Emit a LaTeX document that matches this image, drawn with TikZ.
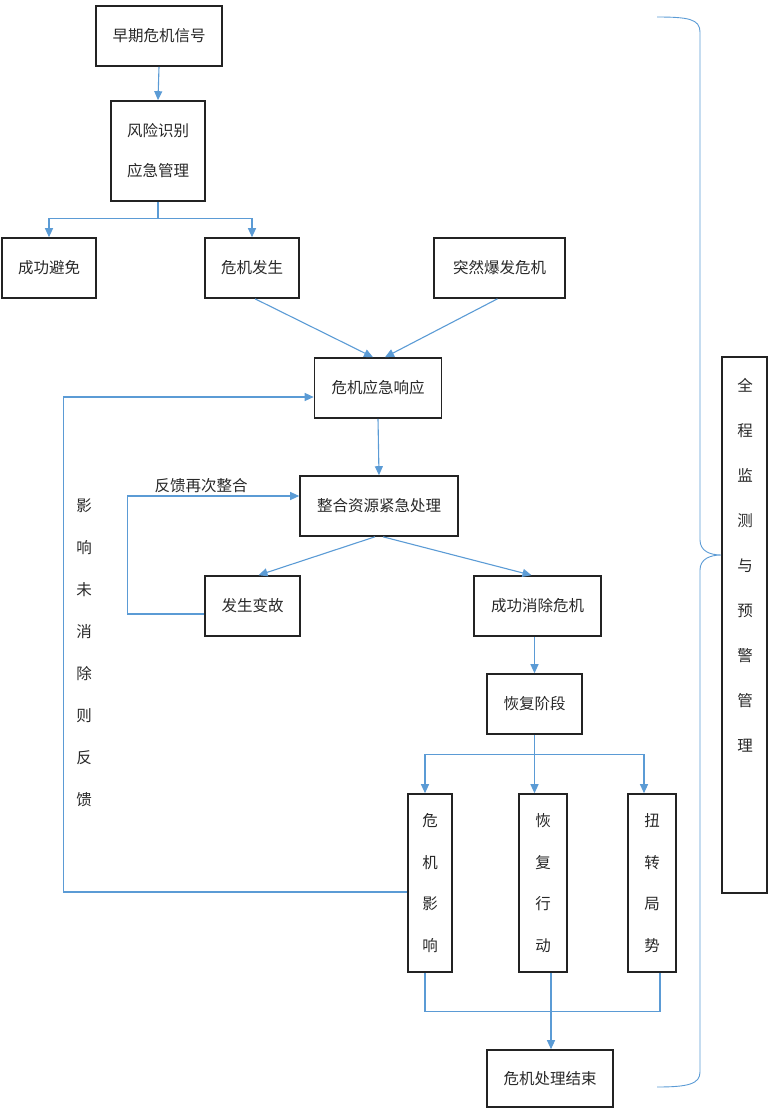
\documentclass[tikz,border=0pt]{standalone}
\usepackage{fontspec}
\setmainfont{Noto Sans CJK SC}
\usetikzlibrary{arrows.meta}
\definecolor{lineblue}{RGB}{91,155,213}
\definecolor{boxgray}{RGB}{35,35,35}
\definecolor{txt}{RGB}{40,40,40}
\begin{document}
\begin{tikzpicture}[x=1pt,y=-1pt,
  box/.style={draw=boxgray, line width=1.6pt, rectangle, inner sep=0pt, text=txt,
    font=\fontsize{15.5}{18}\selectfont, align=center},
  vbox/.style={box, font=\fontsize{15.5}{41.7}\selectfont},
  lbl/.style={text=txt, inner sep=0pt, align=center},
  conn/.style={draw=lineblue, line width=1.1pt},
  arr/.style={conn, -{Triangle[length=9pt,width=8pt]}},
  ]
\useasboundingbox (0,0) rectangle (768,1110);

% boxes
\node[box, minimum width=126pt, minimum height=60pt] (sig) at (159,36) {早期危机信号};
\node[box, minimum width=94pt, minimum height=100pt, font=\fontsize{15.5}{40}\selectfont] (risk) at (158,151) {风险识别\\应急管理};
\node[box, minimum width=94pt, minimum height=60pt] (avoid) at (49,268) {成功避免};
\node[box, minimum width=94pt, minimum height=60pt] (occur) at (252,268) {危机发生};
\node[box, minimum width=131pt, minimum height=60pt] (sudden) at (499.5,268) {突然爆发危机};
\node[box, minimum width=127pt, minimum height=60pt] (resp) at (378,388) {危机应急响应};
\node[box, minimum width=158pt, minimum height=60pt] (integ) at (379,506) {整合资源紧急处理};
\node[box, minimum width=95pt, minimum height=60pt] (accident) at (252.5,606) {发生变故};
\node[box, minimum width=127pt, minimum height=60pt] (elim) at (537.5,606) {成功消除危机};
\node[box, minimum width=95pt, minimum height=60pt] (recov) at (534.5,704) {恢复阶段};
\node[vbox, minimum width=44pt, minimum height=178pt] (impact) at (430,883) {危\\机\\影\\响};
\node[vbox, minimum width=48pt, minimum height=178pt] (action) at (543,883) {恢\\复\\行\\动};
\node[vbox, minimum width=48pt, minimum height=178pt] (turn) at (652,883) {扭\\转\\局\\势};
\node[box, minimum width=126pt, minimum height=57pt] (endn) at (550,1078.5) {危机处理结束};
\node[box, minimum width=45pt, minimum height=536pt] (monitor) at (744.5,625) {};
\node[lbl, font=\fontsize{15.5}{45}\selectfont] (monitorlbl) at (745,565) {全\\程\\监\\测\\与\\预\\警\\管\\理};

% labels
\node[lbl, font=\fontsize{15.5}{42}\selectfont] (fbleft) at (84,653) {影\\响\\未\\消\\除\\则\\反\\馈};
\node[lbl, font=\fontsize{15.5}{18}\selectfont] (fblabel) at (201,486) {反馈再次整合};

% connectors
\draw[arr] (sig.south) -- (risk.north);
\draw[conn] (risk.south) -- ++(0,17) coordinate (rb);
\draw[arr] (rb) -| (avoid.north);
\draw[arr] (rb) -| (occur.north);
\draw[arr] ([xshift=3pt]occur.south) -- ([xshift=-5pt]resp.north);
\draw[arr] ([xshift=-2pt]sudden.south) -- ([xshift=7pt]resp.north);
\draw[arr] (resp.south) -- (integ.north);
\draw[arr] ([xshift=-4pt]integ.south) -- ([xshift=6pt]accident.north);
\draw[arr] ([xshift=4pt]integ.south) -- ([xshift=-6pt]elim.north);
\draw[arr] ([yshift=-8pt]accident.west) -- ++(-77,0) |- ([yshift=10pt]integ.west);
\draw[arr] (recov.north |- elim.south) -- (recov.north);
\draw[conn] (recov.south) -- ++(0,20) coordinate (bb);
\draw[arr] (bb) -| ([xshift=-5pt]impact.north);
\draw[arr] (bb) -- (bb |- action.north);
\draw[arr] (bb) -| ([xshift=-8pt]turn.north);
\draw[conn] ([xshift=-5pt]impact.south) -- ++(0,39) -| ([xshift=8pt]turn.south);
\draw[arr] ([xshift=8pt]action.south) -- ([xshift=8pt]action.south |- endn.north);
\draw[arr] ([yshift=-9pt]impact.west) -- ++(-344,0) |- ([yshift=-9pt]resp.west);

% brace
\coordinate (tip) at ([yshift=70pt]monitor.west);
\draw[conn, line width=0.9pt] (657,17) .. controls (688,17) and (700,19) .. (700,32)
  -- (700,540) .. controls (700,551) and (710,555) .. (tip)
  .. controls (710,555) and (700,559) .. (700,570)
  -- (700,1072) .. controls (700,1084) and (688,1087) .. (657,1087);
\end{tikzpicture}
\end{document}
